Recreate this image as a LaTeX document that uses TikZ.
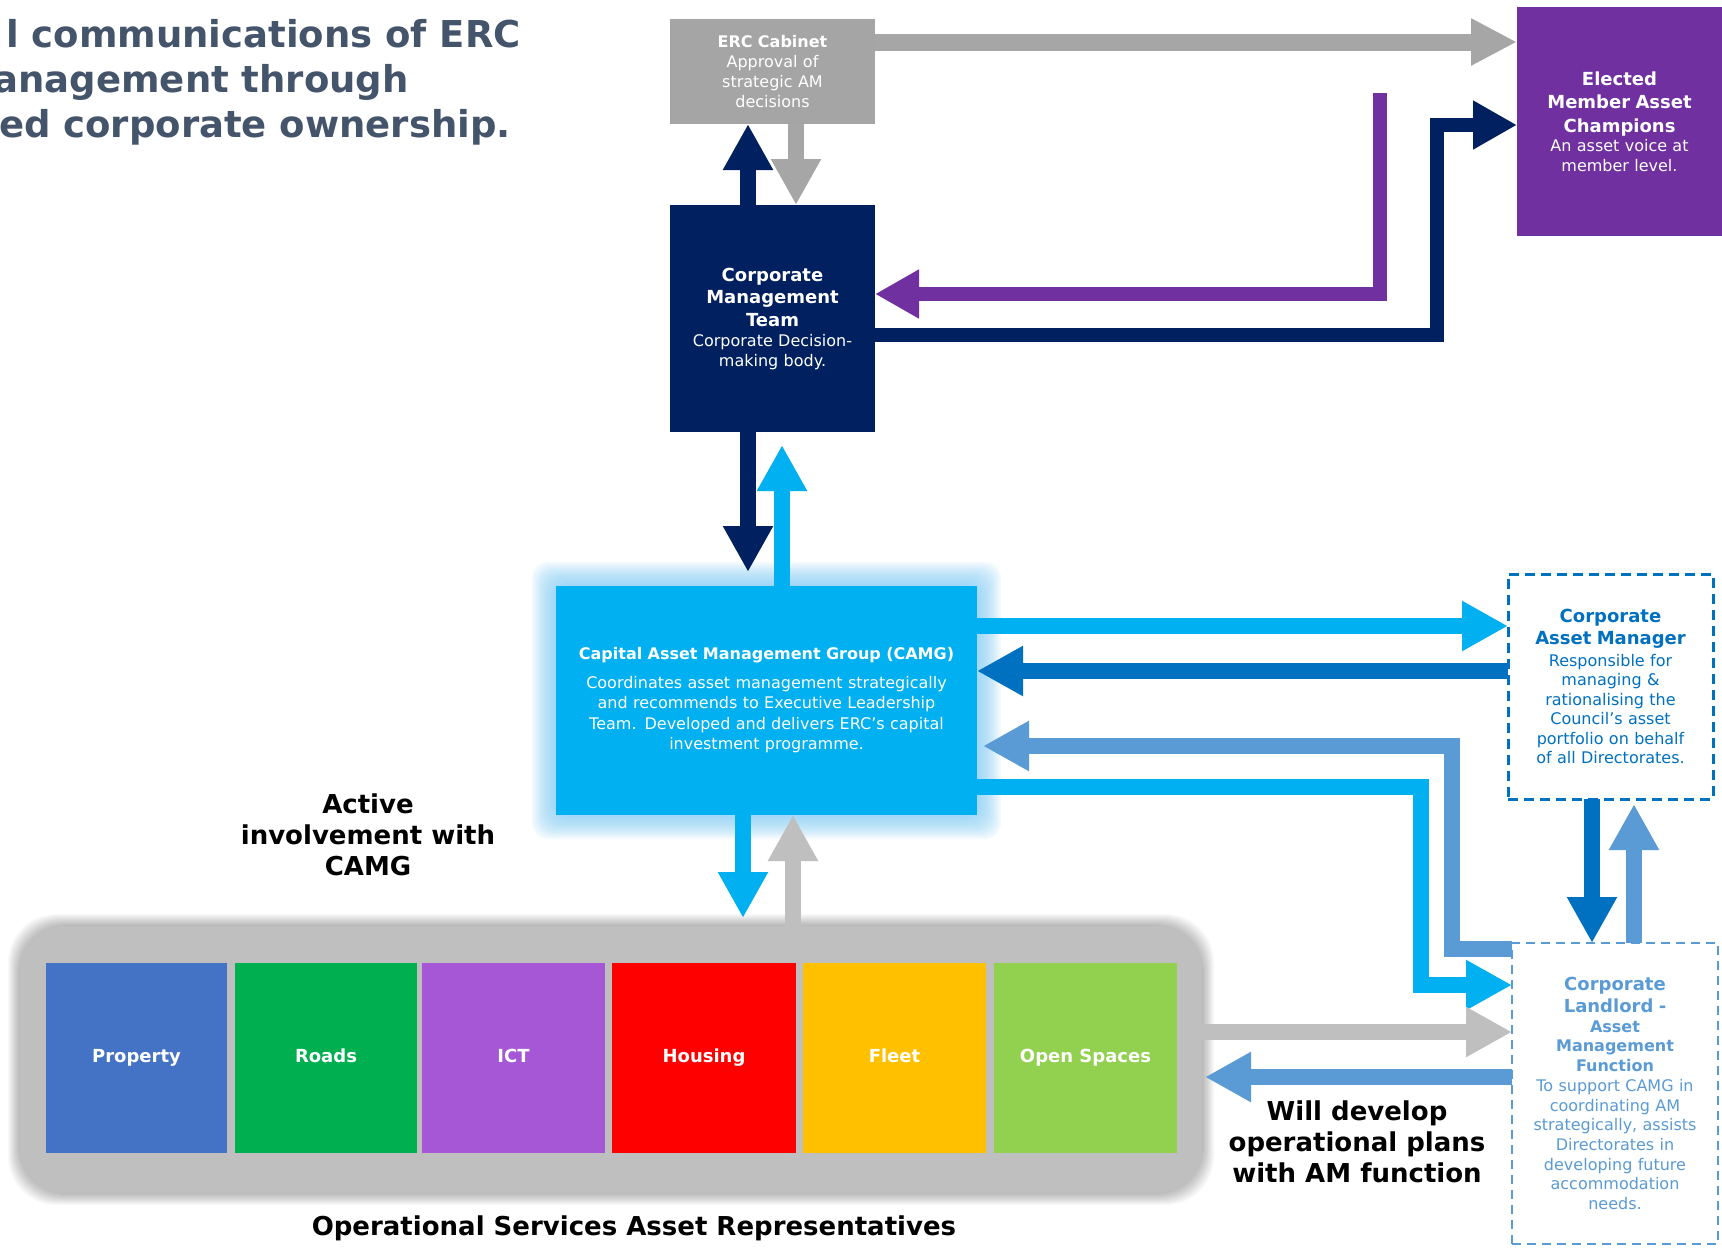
\documentclass[tikz,border=0pt]{standalone}
\usepackage{fontspec}
\setmainfont{DejaVu Sans}
\usetikzlibrary{arrows.meta,calc}
\definecolor{ercgray}{HTML}{A5A5A5}
\definecolor{arrgray}{HTML}{A6A6A6}
\definecolor{lgray}{HTML}{BFBFBF}
\definecolor{navy}{HTML}{002060}
\definecolor{purp}{HTML}{7030A0}
\definecolor{cyanb}{HTML}{00B0F0}
\definecolor{dblue}{HTML}{0070C0}
\definecolor{sblue}{HTML}{5B9BD5}
\definecolor{titlec}{HTML}{44546A}
\definecolor{cprop}{HTML}{4472C4}
\definecolor{croad}{HTML}{00B050}
\definecolor{cict}{HTML}{A557D6}
\definecolor{chous}{HTML}{FF0000}
\definecolor{cfleet}{HTML}{FFC000}
\definecolor{copen}{HTML}{92D050}
\definecolor{glowc}{HTML}{7CCBF8}
\begin{document}
\begin{tikzpicture}[x=1pt,y=-1pt,
  box/.style={draw=none, inner sep=0pt, outer sep=0pt, anchor=north west, align=center},
  fat/.style={line width=16pt, -{Triangle[width=47pt,length=46pt]}},
  slim/.style={line width=14pt, -{Triangle[width=46pt,length=44pt]}},
  svc/.style={box, minimum width=182pt, minimum height=190pt, text height=13pt, text depth=4pt, text=white, font=\fontsize{18}{22}\selectfont\bfseries},
  lbl/.style={align=center, font=\fontsize{26}{31}\selectfont\bfseries, text=black, inner sep=0pt},
  ttl/.style={anchor=base east, text=titlec, font=\fontsize{37}{45}\selectfont\bfseries, inner sep=0pt}
]
\useasboundingbox (0,0) rectangle (1722,1248);
\clip (0,0) rectangle (1722,1248);
\fill[white] (0,0) rectangle (1722,1248);

% title
\node[ttl] (t1) at (521,47) {l communications of ERC};
\node[ttl] (t2) at (409,92) {anagement through};
\node[ttl] (t3) at (511,137) {ed corporate ownership.};

% top boxes
\node[box, fill=ercgray, minimum width=205pt, minimum height=105pt, text width=200pt, text=white,
  font=\fontsize{16}{20}\selectfont] (erc) at (670,19)
  {\textbf{ERC Cabinet}\\Approval of\\strategic AM\\decisions};
\node[box, fill=navy, minimum width=205pt, minimum height=227pt, text width=200pt, text=white,
  font=\fontsize{16}{20}\selectfont] (cmt) at (670,205)
  {{\fontsize{18}{22.5}\selectfont\bfseries Corporate\\Management\\Team\par}Corporate Decision-\\making body.};
\node[box, fill=purp, minimum width=205pt, minimum height=229pt, text width=200pt, text=white,
  font=\fontsize{16}{19.5}\selectfont] (elected) at (1517,7)
  {{\fontsize{18}{23.5}\selectfont\bfseries Elected\\Member Asset\\Champions\par}An asset voice at\\member level.};

% CAMG glow
\foreach \d in {2,4,...,24} {\fill[glowc, opacity=0.09, rounded corners=16pt] (556-\d,586-\d) rectangle (977+\d,815+\d);}
\node[box, fill=cyanb, minimum width=421pt, minimum height=229pt, text width=410pt, text=white,
  font=\fontsize{16}{20.5}\selectfont] (camg) at (556,586)
  {{\bfseries Capital Asset Management Group (CAMG)\par}\vspace{8pt}Coordinates asset management strategically\\and recommends to Executive Leadership\\Team. Developed and delivers ERC’s capital\\investment programme.};

% right dashed boxes
\node[box, draw=dblue, line width=3pt, dash pattern=on 10pt off 6pt, minimum width=205pt, minimum height=225pt,
  text width=200pt, text=dblue, font=\fontsize{16}{19.5}\selectfont] (cam) at (1508,574)
  {{\fontsize{18}{22}\selectfont\bfseries Corporate\\Asset Manager\par}\vspace{2pt}Responsible for\\managing \&\\rationalising the\\Council’s asset\\portfolio on behalf\\of all Directorates.};
\node[box, draw=sblue, line width=2.5pt, dash pattern=on 9pt off 6pt, minimum width=206pt, minimum height=301pt,
  text width=200pt, text=sblue, font=\fontsize{16}{19.7}\selectfont] (landlord) at (1512,943)
  {{\fontsize{18}{22}\selectfont\bfseries Corporate\\Landlord -\par}{\bfseries Asset\\Management\\Function\par}To support CAMG in\\coordinating AM\\strategically, assists\\Directorates in\\developing future\\accommodation\\needs.};

% operational group with shadow
\foreach \d in {1,...,12} {\fill[black, opacity=0.022, rounded corners=48pt] (20-\d,926-\d) rectangle (1202+\d,1193+\d);}
\node[box, fill=lgray, rounded corners=44pt, minimum width=1182pt, minimum height=267pt] (grp) at (20,926) {};
\node[svc, fill=cprop, minimum width=181pt] (prop) at (46,963) {Property};
\node[svc, fill=croad] (roads) at (235,963) {Roads};
\node[svc, fill=cict, minimum width=183pt] (ict) at (422,963) {ICT};
\node[svc, fill=chous, minimum width=184pt] (hous) at (612,963) {Housing};
\node[svc, fill=cfleet, minimum width=183pt] (fleet) at (803,963) {Fleet};
\node[svc, fill=copen, minimum width=183pt] (open) at (994,963) {Open Spaces};

% labels
\node[lbl] (active) at (368,835) {Active\\involvement with\\CAMG};
\node[lbl] (willdev) at (1357,1142) {Will develop\\operational plans\\with AM function};
\node[lbl] (opserv) at (634,1228) {Operational Services Asset Representatives};

% free ends
\coordinate (pstart) at (1380,93);
\coordinate (cmtTip) at (748,572);
\coordinate (upTip) at (782,445);
\coordinate (dnTip) at (743,918);
\coordinate (sbTip) at (983,746);
\coordinate (wdTip) at (1205,1077);
\coordinate (upTip2) at (1634,804);

% connectors
\draw[fat, navy] (cmt.north -| 748,0) -- (erc.south -| 748,0);
\draw[fat, arrgray] (erc.south -| 796,0) -- (cmt.north -| 796,0);
\draw[line width=17pt, arrgray, -{Triangle[width=44pt,length=46pt]}] (erc.east |- 0,42) -- (elected.west |- 0,42);
\draw[slim, navy] (cmt.east |- 0,335) -- (1437,335) -- (1437,125) -- (elected.west |- 0,125);
\draw[slim, purp] (pstart) -- (1380,294) -- (cmt.east |- 0,294);
\draw[fat, navy] (cmt.south -| 748,0) -- (cmtTip);
\draw[fat, cyanb] (camg.north -| 782,0) -- (upTip);
\draw[fat, cyanb] (camg.south -| 743,0) -- (dnTip);
\draw[fat, lgray] (grp.north -| 793,0) -- (camg.south -| 793,0);
\draw[fat, cyanb] (camg.east |- 0,626) -- (cam.west |- 0,626);
\draw[fat, dblue] (cam.west |- 0,671) -- (camg.east |- 0,671);
\draw[fat, sblue] (landlord.west |- 0,949) -- (1452,949) -- (1452,746) -- (sbTip);
\draw[fat, cyanb] (camg.east |- 0,787) -- (1421,787) -- (1421,985) -- (landlord.west |- 0,985);
\draw[fat, lgray] (grp.east |- 0,1032) -- (landlord.west |- 0,1032);
\draw[fat, sblue] (landlord.west |- 0,1077) -- (wdTip);
\draw[fat, dblue] (cam.south -| 1592,0) -- (landlord.north -| 1592,0);
\draw[fat, sblue] (landlord.north -| 1634,0) -- (upTip2);
\end{tikzpicture}
\end{document}
